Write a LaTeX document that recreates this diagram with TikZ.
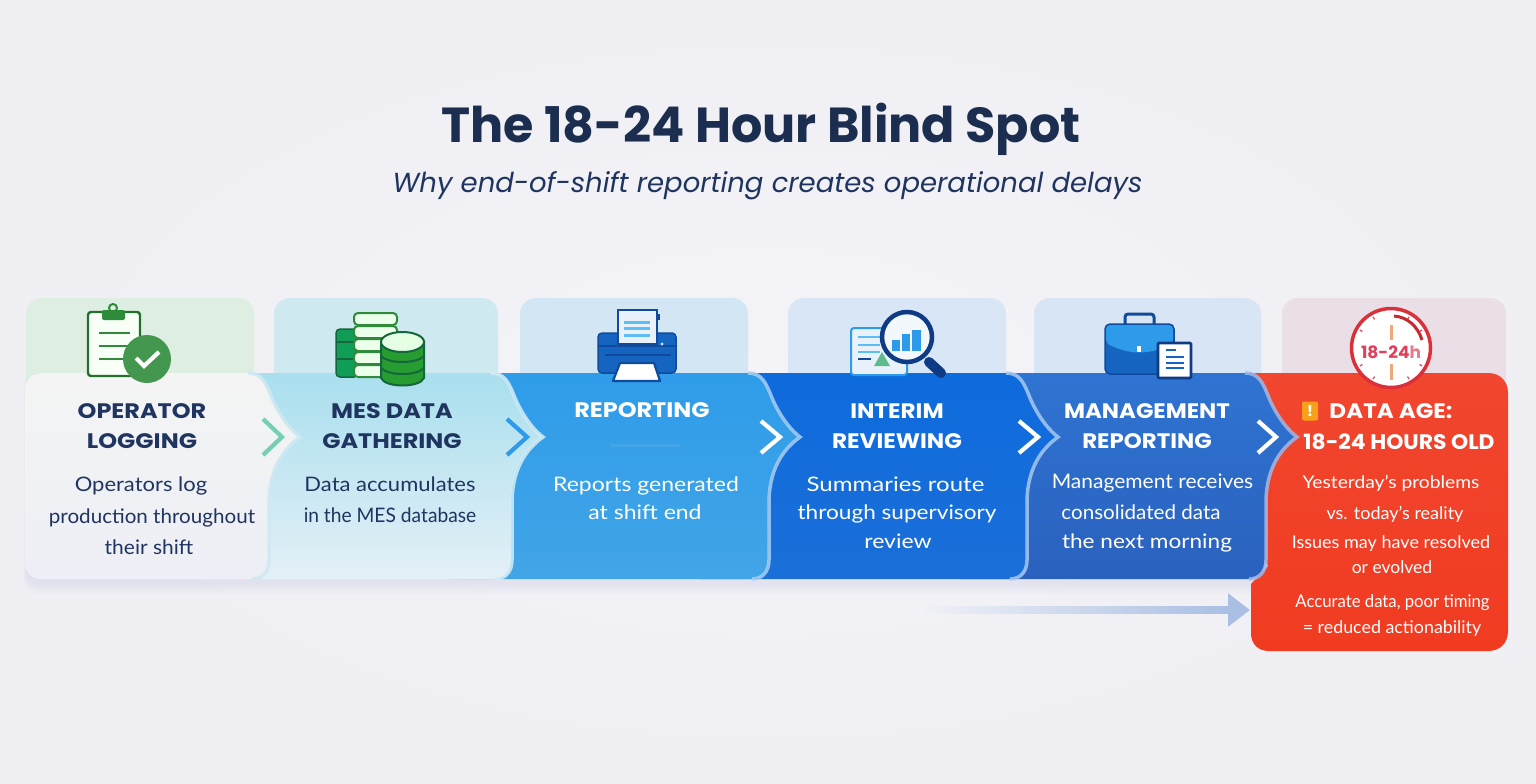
\documentclass[tikz,border=0pt]{standalone}
\usepackage{fontspec}
\usepackage{tikz}
\usetikzlibrary{positioning}
\usetikzlibrary{arrows.meta}
\setmainfont{Lato}
\newfontfamily\headfont{Poppins}
\definecolor{pagebg}{HTML}{F2F2F7}
\definecolor{pageedge}{HTML}{EFEFF4}
\definecolor{pagemid}{HTML}{F3F3F8}
\definecolor{navy}{HTML}{1F3560}
\definecolor{titleink}{HTML}{1B2E4F}
\definecolor{inkblue}{HTML}{0F4A9C}
\definecolor{deepblue}{HTML}{0F3B85}
\definecolor{midblue}{HTML}{1565C0}
\definecolor{skyline}{HTML}{5CBEF5}
\definecolor{paleblue}{HTML}{A9BFE3}
\definecolor{leafgreen}{HTML}{2E8B3A}
\definecolor{darkgreen}{HTML}{14663C}
\definecolor{dbgreen}{HTML}{0F9D58}
\definecolor{tileA}{HTML}{DFEEE2}
\definecolor{tileB}{HTML}{CFE9F0}
\definecolor{tileC}{HTML}{D3E6F4}
\definecolor{tileD}{HTML}{D9E6F5}
\definecolor{tileE}{HTML}{D8E5F4}
\definecolor{tileF}{HTML}{EADFE6}
\definecolor{bandAt}{HTML}{F3F4F3}
\definecolor{bandAb}{HTML}{EEEFF6}
\definecolor{bandBt}{HTML}{A9DFEE}
\definecolor{bandBb}{HTML}{E4F0F7}
\definecolor{bandCt}{HTML}{2E9CE9}
\definecolor{bandCb}{HTML}{42A5E7}
\definecolor{bandDt}{HTML}{0E6BDC}
\definecolor{bandDb}{HTML}{1B6FD9}
\definecolor{bandEt}{HTML}{2F74D2}
\definecolor{bandEb}{HTML}{2A61BE}
\definecolor{bandFt}{HTML}{F1462F}
\definecolor{bandFb}{HTML}{F03B20}
\definecolor{haloA}{HTML}{CFE9F2}
\definecolor{haloB}{HTML}{D5EEF6}
\definecolor{haloC}{HTML}{A9D0F2}
\definecolor{haloD}{HTML}{A6C8F2}
\definecolor{haloE}{HTML}{9FB8E8}
\definecolor{chevA}{HTML}{74CFB3}
\definecolor{chevB}{HTML}{2E9BEA}
\definecolor{clockred}{HTML}{D9303A}
\definecolor{clockdark}{HTML}{C8282F}
\definecolor{clockpink}{HTML}{E0405A}
\definecolor{clocktick}{HTML}{F0A878}
\definecolor{warnorange}{HTML}{F9A01B}
\newcommand{\bandedge}[1]{(#1-52,373) .. controls (#1-38,373) and (#1-34,383) .. (#1-28,398) .. controls (#1-22,412) and (#1-12,428) .. (#1,437) .. controls (#1-14,447) and (#1-30,465) .. (#1-31,500) -- (#1-31,560) .. controls (#1-31,572) and (#1-38,579) .. (#1-48,579)}

\begin{document}
\begin{tikzpicture}[x=1pt, y=-1pt,
    tile/.style={rounded corners=16pt},
    chev/.style={line width=4.2pt, miter limit=10},
    halo/.style={line width=3.5pt, opacity=.85},
    headtext/.style={font=\headfont\bfseries\fontsize{21}{30}\selectfont\addfontfeature{FakeStretch=#1}, align=center, inner sep=0pt, text=navy},
    headtext/.default=1.14,
    bodyline/.style={font=\fontsize{20}{24}\selectfont\addfontfeature{FakeStretch=#1}, anchor=base, inner sep=0pt, text=navy},
    bodyline/.default=1.05,
    whiteline/.style={bodyline=#1, text=white},
    whiteline/.default=1.15,
    redline/.style={font=\fontsize{17.5}{22}\selectfont\addfontfeature{FakeStretch=#1}, anchor=base, inner sep=0pt, text=white},
    redline/.default=1]

    \useasboundingbox (0,0) rectangle (1536,784);
    \shade[inner color=pagemid, outer color=pageedge] (0,0) rectangle (1536,784);

    %Tiles
    \fill[tile, tileA] (26,298) rectangle (254,395);
    \fill[tile, tileB] (274,298) rectangle (498,395);
    \fill[tile, tileC] (520,298) rectangle (748,395);
    \fill[tile, tileD] (788,298) rectangle (1006,395);
    \fill[tile, tileE] (1034,298) rectangle (1261,395);
    \fill[tile, tileF] (1282,298) rectangle (1506,395);

    %Shadow
    \foreach \s in {1,...,7}
        \fill[haloE, opacity=.022, rounded corners=14pt] (27-\s*.5,373) rectangle (1262+\s,583+\s*1.6);

    %Bands
    \shade[top color=bandFt, bottom color=bandFb] (1230,373) -- (1488,373) .. controls (1500,373) and (1508,381) .. (1508,393) -- (1508,631) .. controls (1508,643) and (1500,651) .. (1488,651) -- (1269,651) .. controls (1258,651) and (1251,644) .. (1251,633) -- (1251,584) -- (1268,566) -- (1230,500) -- cycle;
    \shade[top color=bandEt, bottom color=bandEb] (960,373) -- \bandedge{1296} -- (960,579) -- cycle;
    \draw[halo, haloE] \bandedge{1297};
    \shade[top color=bandDt, bottom color=bandDb] (700,373) -- \bandedge{1057} -- (700,579) -- cycle;
    \draw[halo, haloD] \bandedge{1058};
    \shade[top color=bandCt, bottom color=bandCb] (450,373) -- \bandedge{799} -- (450,579) -- cycle;
    \draw[halo, haloC] \bandedge{800};
    \shade[top color=bandBt, bottom color=bandBb] (200,373) -- \bandedge{542} -- (200,579) -- cycle;
    \draw[halo, haloB] \bandedge{543};
    \shade[top color=bandAt, bottom color=bandAb] (43,373) -- \bandedge{299} -- (43,579) .. controls (31,579) and (25,573) .. (25,561) -- (25,391) .. controls (25,379) and (31,373) .. (43,373) -- cycle;
    \draw[halo, haloA] \bandedge{300};
    \shade[left color=bandCb, middle color=white, right color=bandCb] (610,444) rectangle (680,446);

    %Chevrons
    \draw[chev, chevA] (263,419) -- (282,437) -- (263,455);
    \draw[chev, chevB] (507,419) -- (527,437) -- (507,455);
    \draw[chev, white] (761,421) -- (780,437) -- (761,453);
    \draw[chev, white] (1019,421) -- (1038,437) -- (1019,453);
    \draw[chev, white] (1258,421) -- (1276,437) -- (1258,453);

    %Arrow
    \coordinate (late_start) at (918,610);
    \coordinate (late_end) at (1250,610);
    \draw[paleblue, line width=7pt, -{Triangle[length=22pt, width=32pt]}] (late_start) -- (late_end);
    \shade[left color=pagebg, right color=paleblue] (918,606.5) rectangle (1229,613.5);

    %Clipboard
    \draw[leafgreen!80!black, fill=green!3!white, line width=2.4pt, rounded corners=3pt] (88,312) rectangle (140,376);
    \draw[leafgreen, line width=2pt] (113,308) circle (4pt);
    \fill[leafgreen, rounded corners=2pt] (102,310) rectangle (125,320);
    \foreach \y in {333,346,359}
        \draw[leafgreen, line width=2.6pt] (99,\y) -- (130,\y);
    \fill[leafgreen!90!white] (147,359) circle (24pt);
    \draw[white, line width=4.2pt] (136,358) -- (144,366) -- (159,352);

    %Database
    \draw[darkgreen, fill=dbgreen, line width=1.5pt, rounded corners=4pt] (336,329) rectangle (358,377);
    \draw[darkgreen, line width=2pt] (336,342) -- (356,342);
    \draw[darkgreen, line width=2pt] (336,359) -- (356,359);
    \foreach \y in {313,326,339,352,365}
        \draw[leafgreen, fill=green!8!white, line width=2pt, rounded corners=4pt] (354,\y) rectangle (397,\y+12);
    \draw[darkgreen, fill=leafgreen!85!green, line width=2pt] (381,342) -- (381,378) .. controls (385,388) and (420,388) .. (424,378) -- (424,342) -- cycle;
    \draw[darkgreen, line width=2pt] (381,356) .. controls (388,364) and (417,364) .. (424,356);
    \draw[darkgreen, line width=2pt] (381,368) .. controls (388,376) and (417,376) .. (424,368);
    \draw[darkgreen, fill=green!10!white, line width=2pt] (402.5,342) ellipse (21.5pt and 10pt);

    %Printer
    \draw[inkblue, fill=midblue, line width=1.5pt, rounded corners=4pt] (598,333) rectangle (676,373);
    \draw[inkblue, line width=2pt] (598,346) -- (676,346);
    \draw[inkblue, line width=2pt] (605,355) -- (671,355);
    \draw[inkblue, fill=tileC!50!white, line width=2.2pt] (618,310) rectangle (657,344);
    \fill[inkblue] (657,314) rectangle (660,320);
    \foreach \y in {322,328,335}
        \draw[skyline, line width=3pt] (624,\y) -- (650,\y);
    \fill[tileC] (662,344) circle (1.6pt);
    \draw[inkblue, fill=white, line width=2.2pt, line join=round] (620,363) -- (654,363) -- (660,381) -- (613,381) -- cycle;

    %Magnifier
    \draw[chevB, fill=tileC!50!white, line width=2pt, rounded corners=3pt] (851,328) rectangle (907,375);
    \foreach \y in {337,345,352}
        \draw[skyline, line width=2.4pt] (858,\y) -- (880,\y);
    \draw[inkblue, line width=2.4pt] (858,359) -- (871,359);
    \fill[chevA!70!leafgreen] (882,352) -- (890,366) -- (874,366) -- cycle;
    \draw[deepblue, line width=10pt, line cap=round] (929,362) -- (941,373);
    \draw[deepblue, fill=tileC!30!white, line width=4.5pt] (907,337) circle (25pt);
    \fill[chevB] (892,340) rectangle (900,351);
    \fill[chevB] (902,334) rectangle (910,351);
    \fill[chevB] (912,330) rectangle (921,351);

    %Briefcase
    \draw[inkblue, line width=3pt, rounded corners=3pt] (1125,325) -- (1125,314) -- (1154,314) -- (1154,325);
    \draw[inkblue, fill=midblue, line width=1.5pt, rounded corners=5pt] (1105,324) rectangle (1174,374);
    \fill[chevB, rounded corners=4pt] (1106,325) -- (1173,325) -- (1173,343) .. controls (1150,355) and (1129,355) .. (1106,343) -- cycle;
    \fill[white] (1137,346) rectangle (1141,352);
    \draw[deepblue, fill=white, line width=2.6pt, rounded corners=1pt] (1158,343) rectangle (1191,378);
    \foreach \y in {357,363,368}
        \draw[midblue, line width=2pt] (1166,\y) -- (1184,\y);
    \draw[midblue, line width=2pt] (1166,350) -- (1176,350);

    %Clock
    \draw[clockred, fill=white, line width=3.5pt] (1391,348) circle (39.5pt);
    \foreach \a in {30,60,120,150,210,240,300,330}
        \draw[clockpink, line width=1.2pt] ({1391+33*cos(\a)},{348+33*sin(\a)}) -- ({1391+36*cos(\a)},{348+36*sin(\a)});
    \draw[clocktick, line width=3pt] (1391,325) -- (1391,340);
    \draw[clocktick, line width=3pt] (1391,364) -- (1391,380);
    \draw[clockdark, line width=3pt] (1394,316) .. controls (1408,317) and (1418,327) .. (1422,340);
    \node[font=\headfont\bfseries\fontsize{17}{20}\selectfont, text=clockpink, inner sep=0pt](clock_text) at (1391,352){18-24{\color{clockpink!70!white}h}};

    %Warning
    \node[fill=warnorange, rounded corners=2pt, text=white, font=\headfont\bfseries\fontsize{15}{15}\selectfont, minimum width=16pt, minimum height=19pt, inner sep=0pt](warn_mark) at (1310,411){!};

    %Title
    \node[font=\headfont\bfseries\fontsize{49.2}{56}\selectfont, text=titleink, inner sep=0pt](main_title) at (761,129){The 18-24 Hour Blind Spot};
    \node[font=\headfont\itshape\fontsize{27.5}{32}\selectfont, text=navy, inner sep=0pt](sub_title) at (767.5,186){Why end-of-shift reporting creates operational delays};

    %Headings
    \node[headtext](logging_head) at (142,426){OPERATOR\\LOGGING};
    \node[headtext](gather_head) at (392,426){MES DATA\\GATHERING};
    \node[headtext, text=white](report_head) at (642,410){REPORTING};
    \node[headtext=1.1, text=white](review_head) at (897,426){INTERIM\\REVIEWING};
    \node[headtext=1.09, text=white](manage_head) at (1147,426){MANAGEMENT\\REPORTING};
    \node[headtext=1.1, text=white](age_head) at (1391,411){DATA AGE:};
    \node[headtext=1.04, text=white, below=15pt of age_head, xshift=8pt](hours_head){18-24 HOURS OLD};

    %Body text
    \node[bodyline=1.1](logging_a) at (141,491){Operators log};
    \node[bodyline=1.03](logging_b) at (152,523){production throughout};
    \node[bodyline](logging_c) at (149,554){their shift};
    \node[bodyline=1.1](gather_a) at (390,491){Data accumulates};
    \node[bodyline=.96](gather_b) at (390,522){in the MES database};
    \node[whiteline](report_a) at (646,491){Reports generated};
    \node[whiteline](report_b) at (645,519){at shift end};
    \node[whiteline=1.2](review_a) at (895.5,491){Summaries route};
    \node[whiteline=1.13](review_b) at (897,519){through supervisory};
    \node[whiteline](review_c) at (898,548){review};
    \node[whiteline=1.05](manage_a) at (1152.5,488){Management receives};
    \node[whiteline=1.03](manage_b) at (1141,519){consolidated data};
    \node[whiteline=1.13](manage_c) at (1147,548){the next morning};

    \node[redline=1.1](age_a) at (1391,488){Yesterday's problems};
    \node[redline=1.03](age_b) at (1395,519){vs. today's reality};
    \node[redline=1.03](age_c) at (1391,548){Issues may have resolved};
    \node[redline](age_d) at (1392,573){or evolved};
    \node[redline=.955](age_e) at (1392.5,607){Accurate data, poor timing};
    \node[redline=1.02](age_f) at (1392,633){= reduced actionability};

\end{tikzpicture}
\end{document}
